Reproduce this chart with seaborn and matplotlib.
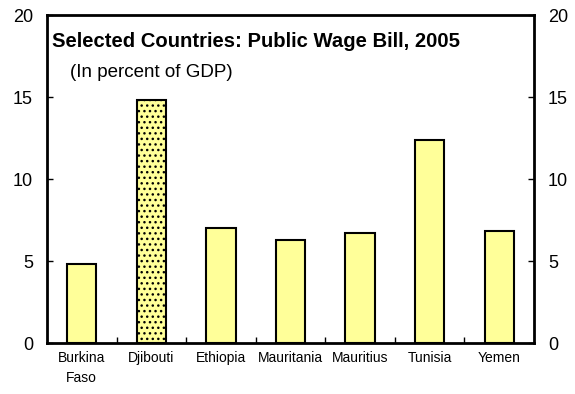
import matplotlib
matplotlib.use("Agg")
import matplotlib.pyplot as plt
import seaborn as sns
import pandas as pd
from matplotlib.ticker import FixedLocator

countries = ["Burkina\nFaso", "Djibouti", "Ethiopia", "Mauritania", "Mauritius", "Tunisia", "Yemen"]
wage_bill = [4.8, 14.8, 7.0, 6.3, 6.7, 12.4, 6.8]
y_ticks = [0, 5, 10, 15, 20]

sns.set_theme(style="white")
plt.rcParams["font.family"] = ["Liberation Sans", "DejaVu Sans"]
plt.rcParams["text.color"] = "black"
plt.rcParams["xtick.color"] = "black"
plt.rcParams["ytick.color"] = "black"
plt.rcParams["xtick.labelcolor"] = "black"
plt.rcParams["ytick.labelcolor"] = "black"
plt.rcParams["hatch.linewidth"] = 1.0
plt.rcParams["hatch.color"] = "#3a3a3a"

df = pd.DataFrame({"country": countries, "value": wage_bill})

fig = plt.figure(figsize=(5.75, 3.94), dpi=100)
ax = fig.add_axes([0.0817, 0.1294, 0.847, 0.8325])

sns.barplot(data=df, x="country", y="value", ax=ax, color="#FFFF99",
            width=0.42, edgecolor="black", linewidth=1.5, saturation=1)

# dotted fill on the Djibouti bar
ax.patches[1].set_hatch("...")

ax.set_ylim(0, 20)
ax.set_xlim(-0.5, len(countries) - 0.5)
ax.set_yticks(y_ticks)
ax.set_yticklabels([str(t) for t in y_ticks], fontsize=13)
ax.set_xlabel("")
ax.set_ylabel("")
ax.tick_params(axis="x", labelsize=10, length=0, pad=6)
for lbl in ax.get_xticklabels():
    lbl.set_linespacing(1.55)
ax.tick_params(axis="y", direction="in", length=4, width=1, pad=10,
               left=True, right=True, labelleft=True, labelright=True)
for sp in ax.spines.values():
    sp.set_visible(True)
    sp.set_color("black")
    sp.set_linewidth(2)

# tick marks between categories along the bottom
ax.xaxis.set_minor_locator(FixedLocator([i + 0.5 for i in range(len(countries) - 1)]))
ax.tick_params(axis="x", which="minor", direction="in", length=4, width=1,
               bottom=True, color="black")

ax.text(0.01, 0.918, "Selected Countries: Public Wage Bill, 2005", transform=ax.transAxes,
        fontsize=14.6, fontweight="bold", va="center", ha="left", color="black")
ax.text(0.047, 0.826, "(In percent of GDP)", transform=ax.transAxes,
        fontsize=13.5, va="center", ha="left", color="black")

fig.savefig("out.png", dpi=100)
